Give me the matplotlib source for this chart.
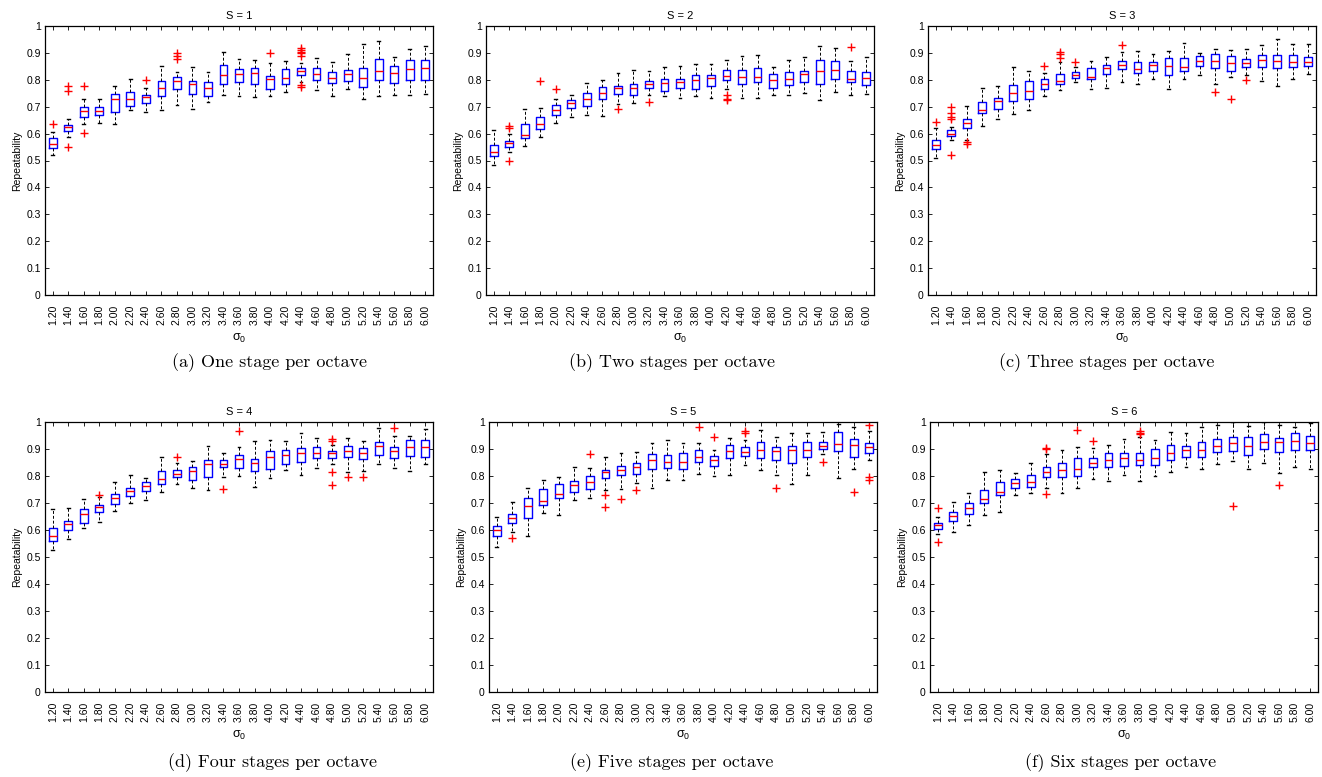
import numpy as np
import matplotlib
matplotlib.use("Agg")
import matplotlib.pyplot as plt

plt.rcParams['font.family'] = ['Liberation Sans', 'DejaVu Sans']

sigma_labels = ["1.20", "1.40", "1.60", "1.80", "2.00", "2.20", "2.40", "2.60", "2.80",
                "3.00", "3.20", "3.40", "3.60", "3.80", "4.00", "4.20", "4.40", "4.60",
                "4.80", "5.00", "5.20", "5.40", "5.60", "5.80", "6.00"]
y_ticks = [0, 0.1, 0.2, 0.3, 0.4, 0.5, 0.6, 0.7, 0.8, 0.9, 1]
y_tick_labels = ["0", "0.1", "0.2", "0.3", "0.4", "0.5", "0.6", "0.7", "0.8", "0.9", "1"]

# --- S = 1 ---
s1_lo = [0.520, 0.588, 0.634, 0.641, 0.634, 0.687, 0.680, 0.687, 0.708, 0.693, 0.717, 0.743, 0.739,
         0.735, 0.741, 0.754, 0.792, 0.761, 0.740, 0.767, 0.730, 0.738, 0.743, 0.745, 0.746]
s1_q1 = [0.548, 0.609, 0.663, 0.671, 0.680, 0.703, 0.712, 0.740, 0.767, 0.749, 0.740, 0.786, 0.790,
         0.786, 0.767, 0.786, 0.817, 0.798, 0.788, 0.796, 0.773, 0.801, 0.787, 0.798, 0.798]
s1_med = [0.562, 0.624, 0.683, 0.683, 0.728, 0.727, 0.736, 0.771, 0.795, 0.783, 0.770, 0.816, 0.821,
          0.824, 0.802, 0.807, 0.832, 0.821, 0.807, 0.821, 0.807, 0.833, 0.824, 0.842, 0.844]
s1_q3 = [0.582, 0.632, 0.700, 0.698, 0.748, 0.753, 0.745, 0.796, 0.809, 0.797, 0.792, 0.856, 0.839,
         0.843, 0.814, 0.842, 0.844, 0.844, 0.830, 0.838, 0.844, 0.876, 0.851, 0.872, 0.874]
s1_hi = [0.605, 0.655, 0.728, 0.727, 0.777, 0.803, 0.771, 0.853, 0.830, 0.848, 0.829, 0.903, 0.876,
         0.873, 0.861, 0.870, 0.863, 0.881, 0.865, 0.897, 0.934, 0.944, 0.885, 0.916, 0.925]
s1_out = [[0.637], [0.777, 0.758, 0.551], [0.777, 0.603], [], [], [], [0.80], [], [0.90, 0.89, 0.877],
          [], [], [], [], [], [0.90], [], [0.920, 0.912, 0.905, 0.898, 0.890, 0.779, 0.775],
          [], [], [], [], [], [], [], []]

# --- S = 2 ---
s2_lo = [0.485, 0.530, 0.553, 0.588, 0.641, 0.662, 0.668, 0.665, 0.709, 0.715, 0.743, 0.738, 0.733,
         0.741, 0.731, 0.764, 0.731, 0.731, 0.745, 0.745, 0.752, 0.726, 0.754, 0.745, 0.749]
s2_q1 = [0.517, 0.549, 0.584, 0.618, 0.671, 0.694, 0.704, 0.728, 0.746, 0.745, 0.771, 0.759, 0.769,
         0.764, 0.776, 0.801, 0.785, 0.790, 0.771, 0.780, 0.791, 0.786, 0.804, 0.791, 0.782]
s2_med = [0.532, 0.566, 0.595, 0.637, 0.689, 0.713, 0.730, 0.752, 0.770, 0.771, 0.783, 0.787, 0.791,
          0.801, 0.808, 0.814, 0.811, 0.809, 0.798, 0.803, 0.821, 0.834, 0.837, 0.804, 0.808]
s2_q3 = [0.559, 0.574, 0.636, 0.660, 0.708, 0.725, 0.752, 0.774, 0.778, 0.786, 0.797, 0.804, 0.803,
         0.817, 0.819, 0.838, 0.837, 0.845, 0.821, 0.829, 0.833, 0.875, 0.869, 0.833, 0.830]
s2_hi = [0.615, 0.597, 0.693, 0.697, 0.728, 0.744, 0.788, 0.801, 0.826, 0.838, 0.833, 0.849, 0.853,
         0.859, 0.859, 0.874, 0.890, 0.894, 0.847, 0.875, 0.886, 0.927, 0.918, 0.871, 0.884]
s2_out = [[], [0.627, 0.620, 0.498], [], [0.797], [0.767], [], [], [], [0.692], [], [0.716], [], [],
          [], [], [0.742, 0.727, 0.724], [], [], [], [], [], [], [], [0.922], []]

# --- S = 3 ---
s3_lo = [0.510, 0.575, 0.578, 0.627, 0.653, 0.672, 0.689, 0.738, 0.761, 0.791, 0.764, 0.770, 0.792,
         0.785, 0.804, 0.764, 0.803, 0.817, 0.783, 0.811, 0.817, 0.796, 0.777, 0.804, 0.822]
s3_q1 = [0.542, 0.590, 0.619, 0.675, 0.693, 0.723, 0.730, 0.767, 0.786, 0.806, 0.803, 0.822, 0.839,
         0.824, 0.834, 0.817, 0.834, 0.853, 0.843, 0.832, 0.849, 0.846, 0.844, 0.847, 0.853]
s3_med = [0.559, 0.600, 0.641, 0.688, 0.720, 0.751, 0.760, 0.785, 0.797, 0.816, 0.811, 0.843, 0.854,
          0.842, 0.856, 0.850, 0.849, 0.871, 0.869, 0.864, 0.864, 0.875, 0.871, 0.868, 0.865]
s3_q3 = [0.578, 0.614, 0.656, 0.718, 0.733, 0.782, 0.796, 0.802, 0.823, 0.828, 0.843, 0.856, 0.870,
         0.866, 0.866, 0.882, 0.881, 0.887, 0.895, 0.887, 0.877, 0.894, 0.891, 0.891, 0.886]
s3_hi = [0.619, 0.624, 0.702, 0.771, 0.776, 0.849, 0.832, 0.827, 0.866, 0.849, 0.869, 0.886, 0.903,
         0.908, 0.896, 0.908, 0.937, 0.901, 0.916, 0.910, 0.916, 0.928, 0.950, 0.934, 0.933]
s3_out = [[0.643], [0.700, 0.677, 0.660, 0.655, 0.522], [0.568, 0.561], [], [], [], [], [0.850],
          [0.905, 0.895, 0.880], [0.868], [], [], [0.930], [], [], [], [], [], [0.754], [0.730],
          [0.800], [], [], [], []]

# --- S = 4 ---
s4_lo = [0.525, 0.568, 0.608, 0.630, 0.670, 0.699, 0.712, 0.739, 0.770, 0.757, 0.749, 0.796, 0.800,
         0.759, 0.792, 0.821, 0.803, 0.830, 0.843, 0.814, 0.819, 0.844, 0.829, 0.819, 0.845]
s4_q1 = [0.558, 0.599, 0.625, 0.666, 0.696, 0.726, 0.744, 0.770, 0.796, 0.785, 0.796, 0.833, 0.828,
         0.818, 0.827, 0.843, 0.851, 0.868, 0.865, 0.869, 0.863, 0.879, 0.866, 0.874, 0.871]
s4_med = [0.578, 0.621, 0.660, 0.684, 0.717, 0.743, 0.762, 0.790, 0.809, 0.818, 0.844, 0.843, 0.863,
          0.848, 0.869, 0.877, 0.886, 0.886, 0.885, 0.892, 0.884, 0.911, 0.891, 0.907, 0.907]
s4_q3 = [0.609, 0.634, 0.678, 0.692, 0.733, 0.757, 0.776, 0.817, 0.822, 0.832, 0.861, 0.859, 0.876,
         0.863, 0.892, 0.896, 0.902, 0.908, 0.891, 0.912, 0.903, 0.925, 0.907, 0.933, 0.934]
s4_hi = [0.679, 0.681, 0.713, 0.722, 0.776, 0.803, 0.792, 0.869, 0.847, 0.855, 0.911, 0.886, 0.906,
         0.928, 0.933, 0.928, 0.960, 0.939, 0.916, 0.942, 0.928, 0.978, 0.949, 0.949, 0.975]
s4_out = [[], [], [], [0.729], [], [], [], [], [0.870], [], [], [0.752], [0.968], [], [], [], [], [],
          [0.937, 0.930, 0.815, 0.768], [0.797], [0.797], [], [0.978], [], []]

# --- S = 5 ---
s5_lo = [0.538, 0.594, 0.579, 0.662, 0.655, 0.712, 0.717, 0.749, 0.751, 0.774, 0.755, 0.785, 0.786,
         0.807, 0.800, 0.804, 0.840, 0.824, 0.803, 0.772, 0.804, 0.880, 0.792, 0.827, 0.858]
s5_q1 = [0.578, 0.625, 0.646, 0.692, 0.720, 0.741, 0.751, 0.791, 0.803, 0.809, 0.825, 0.828, 0.827,
         0.853, 0.838, 0.865, 0.874, 0.866, 0.859, 0.849, 0.870, 0.900, 0.892, 0.871, 0.885]
s5_med = [0.600, 0.644, 0.688, 0.707, 0.735, 0.765, 0.776, 0.813, 0.822, 0.832, 0.861, 0.851, 0.853,
          0.870, 0.859, 0.892, 0.889, 0.895, 0.891, 0.895, 0.895, 0.912, 0.918, 0.913, 0.908]
s5_q3 = [0.616, 0.658, 0.717, 0.751, 0.769, 0.782, 0.801, 0.823, 0.838, 0.847, 0.880, 0.876, 0.887,
         0.897, 0.873, 0.913, 0.907, 0.926, 0.908, 0.910, 0.925, 0.926, 0.962, 0.937, 0.922]
s5_hi = [0.649, 0.702, 0.756, 0.785, 0.795, 0.832, 0.828, 0.869, 0.884, 0.890, 0.923, 0.932, 0.922,
         0.921, 0.897, 0.939, 0.932, 0.969, 0.943, 0.958, 0.960, 0.964, 0.993, 0.980, 0.967]
s5_out = [[], [0.572], [], [], [], [], [0.882], [0.729, 0.686], [0.715], [0.750], [], [], [],
          [0.983], [0.943], [], [0.965, 0.960], [], [0.754], [], [], [0.853], [], [0.741],
          [0.988, 0.797, 0.787]]

# --- S = 6 ---
s6_lo = [0.585, 0.593, 0.620, 0.655, 0.667, 0.729, 0.736, 0.754, 0.736, 0.756, 0.788, 0.782, 0.803,
         0.781, 0.800, 0.813, 0.835, 0.825, 0.843, 0.856, 0.827, 0.847, 0.811, 0.833, 0.825]
s6_q1 = [0.603, 0.633, 0.658, 0.699, 0.731, 0.755, 0.761, 0.796, 0.798, 0.801, 0.833, 0.833, 0.837,
         0.842, 0.842, 0.861, 0.870, 0.869, 0.889, 0.892, 0.877, 0.900, 0.889, 0.897, 0.896]
s6_med = [0.618, 0.653, 0.682, 0.715, 0.740, 0.774, 0.778, 0.814, 0.823, 0.827, 0.848, 0.860, 0.866,
          0.861, 0.866, 0.884, 0.897, 0.896, 0.911, 0.922, 0.912, 0.925, 0.925, 0.929, 0.923]
s6_q3 = [0.627, 0.667, 0.700, 0.749, 0.776, 0.788, 0.804, 0.835, 0.847, 0.865, 0.868, 0.887, 0.887,
         0.885, 0.901, 0.913, 0.912, 0.926, 0.938, 0.943, 0.943, 0.955, 0.939, 0.958, 0.948]
s6_hi = [0.649, 0.703, 0.738, 0.816, 0.823, 0.811, 0.848, 0.881, 0.896, 0.907, 0.905, 0.915, 0.937,
         0.944, 0.933, 0.963, 0.960, 0.980, 0.988, 0.999, 0.985, 1.000, 0.990, 0.980, 0.998]
s6_out = [[0.683, 0.556], [], [], [], [], [], [], [0.905, 0.900, 0.733], [], [0.972], [0.928], [], [],
          [0.967, 0.960, 0.955], [], [], [], [], [], [0.690], [], [], [0.765], [], []]

panel_titles = ["S = 1", "S = 2", "S = 3", "S = 4", "S = 5", "S = 6"]
captions = ["(a) One stage per octave", "(b) Two stages per octave", "(c) Three stages per octave",
            "(d) Four stages per octave", "(e) Five stages per octave", "(f) Six stages per octave"]

panels = [
    (s1_lo, s1_q1, s1_med, s1_q3, s1_hi, s1_out),
    (s2_lo, s2_q1, s2_med, s2_q3, s2_hi, s2_out),
    (s3_lo, s3_q1, s3_med, s3_q3, s3_hi, s3_out),
    (s4_lo, s4_q1, s4_med, s4_q3, s4_hi, s4_out),
    (s5_lo, s5_q1, s5_med, s5_q3, s5_hi, s5_out),
    (s6_lo, s6_q1, s6_med, s6_q3, s6_hi, s6_out),
]

W, H = 1322, 777
# axes boxes in pixels: left, top, right, bottom
ax_px = [(45, 26, 433, 295), (486, 26, 874, 295), (928, 26, 1316, 295),
         (45, 422, 433, 692), (489, 422, 877, 692), (930, 422, 1318, 692)]
cap_px = [(269, 363), (672, 363), (1107, 363), (273, 763), (672, 763), (1121, 763)]

fig = plt.figure(figsize=(W / 100, H / 100), dpi=100)

for i, (lo, q1, med, q3, hi, out) in enumerate(panels):
    l, t, r, b = ax_px[i]
    ax = fig.add_axes([l / W, 1 - b / H, (r - l) / W, (b - t) / H])
    stats = []
    for k in range(len(sigma_labels)):
        stats.append(dict(whislo=lo[k], q1=q1[k], med=med[k], q3=q3[k], whishi=hi[k], fliers=out[k]))
    pos = np.arange(1, len(sigma_labels) + 1)
    ax.bxp(stats, positions=pos, widths=0.5, capwidths=0.18,
           boxprops=dict(color="blue", linewidth=1.0),
           medianprops=dict(color="red", linewidth=1.0),
           whiskerprops=dict(color="black", linewidth=0.7, linestyle=(0, (3, 2))),
           capprops=dict(color="black", linewidth=1.0),
           flierprops=dict(marker="+", markeredgecolor="red", markersize=5.5, markeredgewidth=1.0,
                           linestyle="none"))
    ax.set_xlim(0.5, len(sigma_labels) + 0.5)
    ax.set_ylim(0, 1)
    ax.set_xticks(pos)
    ax.set_xticklabels(sigma_labels, rotation=90, fontsize=7.5)
    ax.set_yticks(y_ticks)
    ax.set_yticklabels(y_tick_labels, fontsize=7.5)
    ax.tick_params(direction="in", top=True, right=True, length=3, width=0.6)
    ax.tick_params(axis="x", pad=7)
    ax.tick_params(axis="y", pad=3)
    for sp in ax.spines.values():
        sp.set_linewidth(0.9)
    ax.set_title(panel_titles[i], fontsize=8, pad=5)
    ax.set_ylabel("Repeatability", fontsize=7.5, labelpad=3)
    ax.set_xlabel(r"$\mathregular{\sigma_0}$", fontsize=9, labelpad=5)
    cx, cy = cap_px[i]
    fig.text(cx / W, 1 - cy / H, captions[i], ha="center", va="center",
             fontsize=13, family="cmr10")

fig.savefig("out.png", dpi=100)
